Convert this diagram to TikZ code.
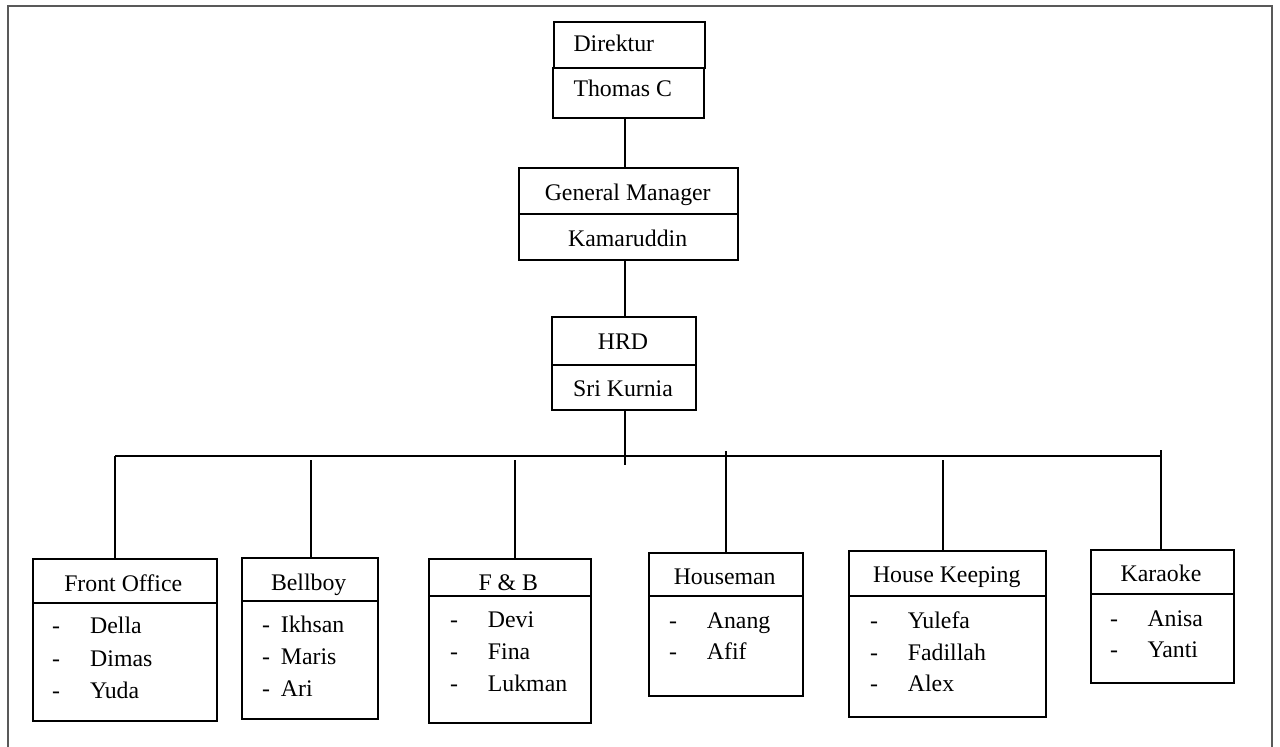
\documentclass[tikz,border=0pt]{standalone}
\usepackage{fontspec}
\setmainfont{Liberation Serif}
\begin{document}
\begin{tikzpicture}[x=1pt,y=-1pt,
  unitbox/.style={draw=black, line width=1.8pt, inner sep=0pt, anchor=north west},
  lbl/.style={inner sep=0pt, font=\fontsize{23.8}{28}\selectfont},
  link/.style={draw=black, line width=2pt},
  frameline/.style={draw=black!65, line width=1.8pt}]
\useasboundingbox (0,0) rectangle (1280,747);

% page frame (open at the bottom)
\draw[frameline] (8.3,747) -- (8.3,5.6) -- (1272.3,5.6) -- (1272.3,747);

% ---- top of the hierarchy ----
\node[unitbox, minimum width=151pt, minimum height=46pt] (dirT) at (553,20.7) {};
\node[unitbox, minimum width=151pt, minimum height=50pt] (dirB) at (552,66.7) {};
\node[lbl, anchor=base west] (tDir) at (573.3,51.7) {Direktur};
\node[lbl, anchor=base west] (tThomas) at (573.3,96.7) {Thomas C};

\node[unitbox, minimum width=218.5pt, minimum height=46.6pt] (gmT) at (518.3,166.7) {};
\node[unitbox, minimum width=219pt, minimum height=46pt] (gmB) at (518.3,213.3) {};
\node[lbl, anchor=base] (tGM) at (627.7,200) {General Manager};
\node[lbl, anchor=base] (tKam) at (627.7,246.7) {Kamaruddin};

\node[unitbox, minimum width=144pt, minimum height=48.3pt] (hrdT) at (551,316) {};
\node[unitbox, minimum width=144pt, minimum height=45pt] (hrdB) at (551,364.3) {};
\node[lbl, anchor=base] (tHRD) at (623,349) {HRD};
\node[lbl, anchor=base] (tSri) at (623,396.7) {Sri Kurnia};

% ---- departments ----
\node[unitbox, minimum width=184pt, minimum height=43.4pt] (foT) at (31.7,558.3) {};
\node[unitbox, minimum width=184pt, minimum height=118.3pt] (foB) at (31.7,601.7) {};
\node[lbl, anchor=base] (tFO) at (123.2,591.7) {Front Office};
\node[lbl, anchor=base west] (dFO1) at (52,633.3) {-};
\node[lbl, anchor=base west] (dFO2) at (52,666.7) {-};
\node[lbl, anchor=base west] (dFO3) at (52,698.3) {-};
\node[lbl, anchor=base west] (nFO1) at (90,633.3) {Della};
\node[lbl, anchor=base west] (nFO2) at (90,666.7) {Dimas};
\node[lbl, anchor=base west] (nFO3) at (90,698.3) {Yuda};

\node[unitbox, minimum width=135.7pt, minimum height=42.7pt] (bbT) at (241,557.3) {};
\node[unitbox, minimum width=135.7pt, minimum height=118.3pt] (bbB) at (241,600) {};
\node[lbl, anchor=base] (tBB) at (308.7,590) {Bellboy};
\node[lbl, anchor=base west] (dBB1) at (262,632.7) {-};
\node[lbl, anchor=base west] (dBB2) at (262,664.3) {-};
\node[lbl, anchor=base west] (dBB3) at (262,696.7) {-};
\node[lbl, anchor=base west] (nBB1) at (280.7,632.7) {Ikhsan};
\node[lbl, anchor=base west] (nBB2) at (280.7,664.3) {Maris};
\node[lbl, anchor=base west] (nBB3) at (280.7,696.7) {Ari};

\node[unitbox, minimum width=161.7pt, minimum height=37.3pt] (fbT) at (428.3,557.7) {};
\node[unitbox, minimum width=161.7pt, minimum height=126.7pt] (fbB) at (428.3,595) {};
\node[lbl, anchor=base] (tFB) at (508.3,590) {F \& B};
\node[lbl, anchor=base west] (dFB1) at (450,627.7) {-};
\node[lbl, anchor=base west] (dFB2) at (450,659.3) {-};
\node[lbl, anchor=base west] (dFB3) at (450,691.7) {-};
\node[lbl, anchor=base west] (nFB1) at (487.7,627.7) {Devi};
\node[lbl, anchor=base west] (nFB2) at (487.7,659.3) {Fina};
\node[lbl, anchor=base west] (nFB3) at (487.7,691.7) {Lukman};

\node[unitbox, minimum width=154pt, minimum height=43.3pt] (hmT) at (648.3,551.7) {};
\node[unitbox, minimum width=154pt, minimum height=100pt] (hmB) at (648.3,595) {};
\node[lbl, anchor=base] (tHM) at (724.7,584) {Houseman};
\node[lbl, anchor=base west] (dHM1) at (669,628.3) {-};
\node[lbl, anchor=base west] (dHM2) at (669,659.3) {-};
\node[lbl, anchor=base west] (nHM1) at (706.7,628.3) {Anang};
\node[lbl, anchor=base west] (nHM2) at (706.7,659.3) {Afif};

\node[unitbox, minimum width=196.7pt, minimum height=45pt] (hkT) at (848.3,550) {};
\node[unitbox, minimum width=196.7pt, minimum height=120.7pt] (hkB) at (848.3,595) {};
\node[lbl, anchor=base] (tHK) at (946.7,582.7) {House Keeping};
\node[lbl, anchor=base west] (dHK1) at (870,628.3) {-};
\node[lbl, anchor=base west] (dHK2) at (870,660) {-};
\node[lbl, anchor=base west] (dHK3) at (870,691.7) {-};
\node[lbl, anchor=base west] (nHK1) at (907.7,628.3) {Yulefa};
\node[lbl, anchor=base west] (nHK2) at (907.7,660) {Fadillah};
\node[lbl, anchor=base west] (nHK3) at (907.7,691.7) {Alex};

\node[unitbox, minimum width=142.7pt, minimum height=44pt] (kaT) at (1090,549.3) {};
\node[unitbox, minimum width=142.7pt, minimum height=88.4pt] (kaB) at (1090,593.3) {};
\node[lbl, anchor=base] (tKA) at (1161,581) {Karaoke};
\node[lbl, anchor=base west] (dKA1) at (1110,626) {-};
\node[lbl, anchor=base west] (dKA2) at (1110,657.7) {-};
\node[lbl, anchor=base west] (nKA1) at (1147.3,626) {Anisa};
\node[lbl, anchor=base west] (nKA2) at (1147.3,657.7) {Yanti};

% ---- connectors ----
\coordinate (spine) at (625,0);
\coordinate (spineEnd) at (625,465);
\coordinate (busL) at (115,456);
\coordinate (busR) at (1160.7,456);
\coordinate (tapBB) at (311,460);
\coordinate (tapFB) at (515,460);
\coordinate (tapHM) at (726,451);
\coordinate (tapHK) at (943,460);
\coordinate (tapKA) at (1160.7,450);

\draw[link] (dirB.south -| spine) -- (gmT.north -| spine);
\draw[link] (gmB.south -| spine) -- (hrdT.north -| spine);
\draw[link] (hrdB.south -| spine) -- (spineEnd);
\draw[link] (busL) -- (busR);
\draw[link] (busL) -- (busL |- foT.north);
\draw[link] (tapBB) -- (tapBB |- bbT.north);
\draw[link] (tapFB) -- (tapFB |- fbT.north);
\draw[link] (tapHM) -- (tapHM |- hmT.north);
\draw[link] (tapHK) -- (tapHK |- hkT.north);
\draw[link] (tapKA) -- (tapKA |- kaT.north);
\end{tikzpicture}
\end{document}
